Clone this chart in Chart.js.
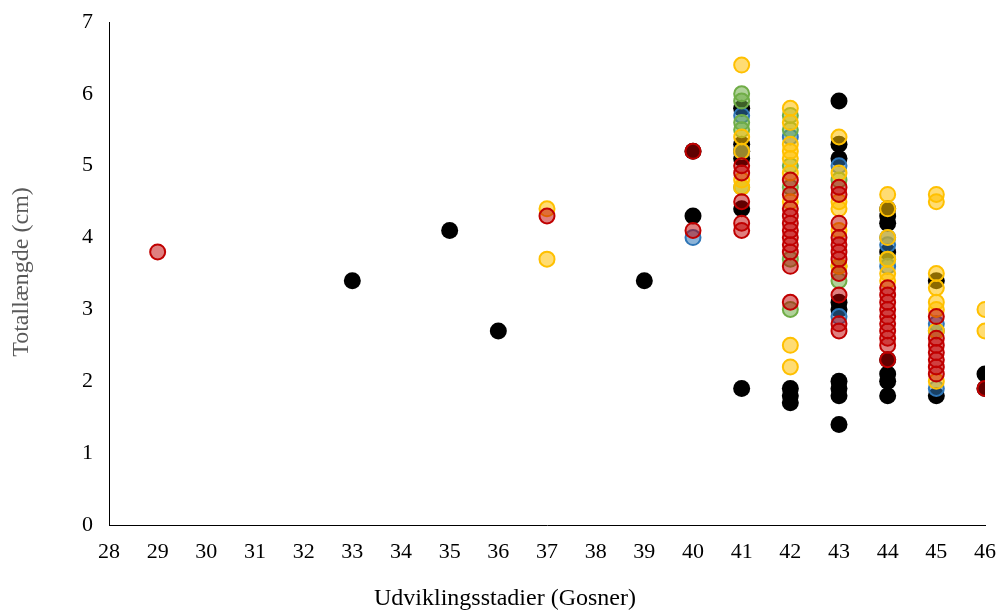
<!DOCTYPE html>
<html>
<head>
<meta charset="utf-8">
<script src="https://cdn.jsdelivr.net/npm/chart.js@4/dist/chart.umd.min.js"></script>
<style>
  html, body { margin: 0; padding: 0; background: #fff; }
  #wrap { width: 1001px; height: 613px; position: relative; }
</style>
</head>
<body>
<div id="wrap"><canvas id="scatter"></canvas></div>
<script>
// Gosner stage (x) and total length in cm (y), one pair of arrays per group
var sortStadie = [33, 35, 36, 39, 40, 40, 41, 41, 41, 41, 41, 41, 42, 42, 42, 43, 43, 43, 43, 43, 43, 43, 43, 43, 44, 44, 44, 44, 44, 44, 44, 44, 45, 45, 46, 46];
var sortLaengde = [3.4, 4.1, 2.7, 3.4, 5.2, 4.3, 5.8, 5.3, 5.1, 4.4, 1.9, 5.2, 1.9, 1.8, 1.7, 5.9, 5.3, 5.1, 3.1, 3.0, 2.0, 1.9, 1.8, 1.4, 4.4, 4.3, 4.2, 3.8, 2.3, 2.1, 2.0, 1.8, 3.4, 1.8, 2.1, 1.9];

var blaaStadie = [40, 41, 41, 42, 43, 43, 44, 44, 44, 45, 45, 45];
var blaaLaengde = [4.0, 5.7, 5.2, 5.4, 5.0, 2.9, 3.9, 3.6, 4.0, 2.8, 1.9, 2.7];

var groenStadie = [41, 41, 41, 41, 41, 42, 42, 42, 42, 42, 42, 43, 43, 43, 44];
var groenLaengde = [6.0, 5.9, 5.6, 5.5, 4.7, 5.7, 5.5, 5.0, 3.7, 3.0, 4.7, 4.8, 3.4, 3.6, 3.7];

var gulStadie = [37, 37, 41, 41, 41, 41, 41, 42, 42, 42, 42, 42, 42, 42, 42, 42, 43, 43, 43, 43, 43, 43, 44, 44, 44, 44, 44, 44, 45, 45, 45, 45, 45, 45, 45, 45, 46, 46];
var gulLaengde = [4.4, 3.7, 6.4, 5.4, 5.2, 4.8, 4.7, 5.8, 5.6, 5.3, 5.2, 5.1, 4.9, 4.5, 2.5, 2.2, 5.4, 4.9, 4.5, 4.4, 4.1, 3.6, 4.6, 4.4, 4.0, 3.7, 3.5, 3.4, 4.6, 4.5, 3.5, 3.3, 3.1, 3.0, 2.7, 2.0, 3.0, 2.7];

var roedStadie = [29, 37, 40, 40, 41, 41, 41, 41, 41, 42, 42, 42, 42, 42, 42, 42, 42, 42, 42, 42, 43, 43, 43, 43, 43, 43, 43, 43, 43, 43, 43, 44, 44, 44, 44, 44, 44, 44, 44, 44, 44, 45, 45, 45, 45, 45, 45, 45, 46];
var roedLaengde = [3.8, 4.3, 5.2, 4.1, 5.0, 4.9, 4.5, 4.2, 4.1, 4.8, 4.6, 4.4, 4.3, 4.2, 4.1, 4.0, 3.9, 3.8, 3.6, 3.1, 4.7, 4.6, 4.2, 4.0, 3.9, 3.8, 3.7, 3.5, 3.2, 2.8, 2.7, 3.3, 3.2, 3.1, 3.0, 2.9, 2.8, 2.7, 2.6, 2.5, 2.3, 2.9, 2.6, 2.5, 2.4, 2.3, 2.2, 2.1, 1.9];

var xTitel = "Udviklingsstadier (Gosner)";
var yTitel = "Totallængde (cm)";

function punkter(xs, ys) {
  var ud = [];
  for (var i = 0; i < xs.length; i++) {
    ud.push({ x: xs[i], y: ys[i] });
  }
  return ud;
}

function serie(xs, ys, farve, fyld) {
  return {
    data: punkter(xs, ys),
    backgroundColor: fyld,
    borderColor: farve,
    borderWidth: 2,
    pointRadius: 7.5,
    pointHoverRadius: 7.5,
  };
}

// Axis titles drawn by hand so the x title sits where it should
var aksetitler = {
  id: "aksetitler",
  afterDraw: function (chart) {
    var ctx = chart.ctx;
    ctx.save();
    ctx.font = "24px 'Liberation Serif', 'Times New Roman', serif";
    ctx.textAlign = "center";
    ctx.textBaseline = "middle";
    ctx.fillStyle = "#000000";
    ctx.fillText(xTitel, 505, 599);
    ctx.translate(22, 272);
    ctx.rotate(-Math.PI / 2);
    ctx.fillStyle = "#595959";
    ctx.fillText(yTitel, 0, 0);
    ctx.restore();
  },
};

var serifFont = { family: "'Liberation Serif', 'Times New Roman', serif", size: 22 };

// Dataset 0 is painted last, so the red group goes first to end up on top
new Chart(document.getElementById("scatter"), {
  type: "scatter",
  data: {
    datasets: [
      serie(roedStadie, roedLaengde, "#C00000", "rgba(192,0,0,0.5)"),
      serie(gulStadie, gulLaengde, "#FFC000", "rgba(255,192,0,0.55)"),
      serie(groenStadie, groenLaengde, "#70AD47", "rgba(112,173,71,0.55)"),
      serie(blaaStadie, blaaLaengde, "#2E75B6", "rgba(46,117,182,0.55)"),
      {
        data: punkter(sortStadie, sortLaengde),
        backgroundColor: "#000000",
        borderColor: "#000000",
        borderWidth: 0,
        pointRadius: 8.5,
        pointHoverRadius: 8.5,
      },
    ],
  },
  plugins: [aksetitler],
  options: {
    responsive: true,
    maintainAspectRatio: false,
    animation: false,
    layout: {
      padding: { top: 22, right: 16, left: 0, bottom: 0 },
    },
    plugins: {
      legend: { display: false },
      tooltip: { enabled: false },
    },
    scales: {
      x: {
        type: "linear",
        min: 28,
        max: 46,
        afterFit: function (scale) {
          scale.height = 88;
          scale.paddingLeft = 0;
          scale.paddingRight = 0;
        },
        grid: { display: false, drawTicks: false },
        border: { display: true, color: "#000000", width: 1 },
        ticks: {
          stepSize: 1,
          padding: 14,
          color: "#000000",
          font: serifFont,
          maxRotation: 0,
          autoSkip: false,
        },
      },
      y: {
        min: 0,
        max: 7,
        afterFit: function (scale) {
          scale.width = 109;
          scale.paddingTop = 0;
          scale.paddingBottom = 0;
        },
        grid: { display: false, drawTicks: false },
        border: { display: true, color: "#000000", width: 1 },
        ticks: {
          stepSize: 1,
          padding: 16,
          color: "#000000",
          font: serifFont,
        },
      },
    },
  },
});
</script>
</body>
</html>
